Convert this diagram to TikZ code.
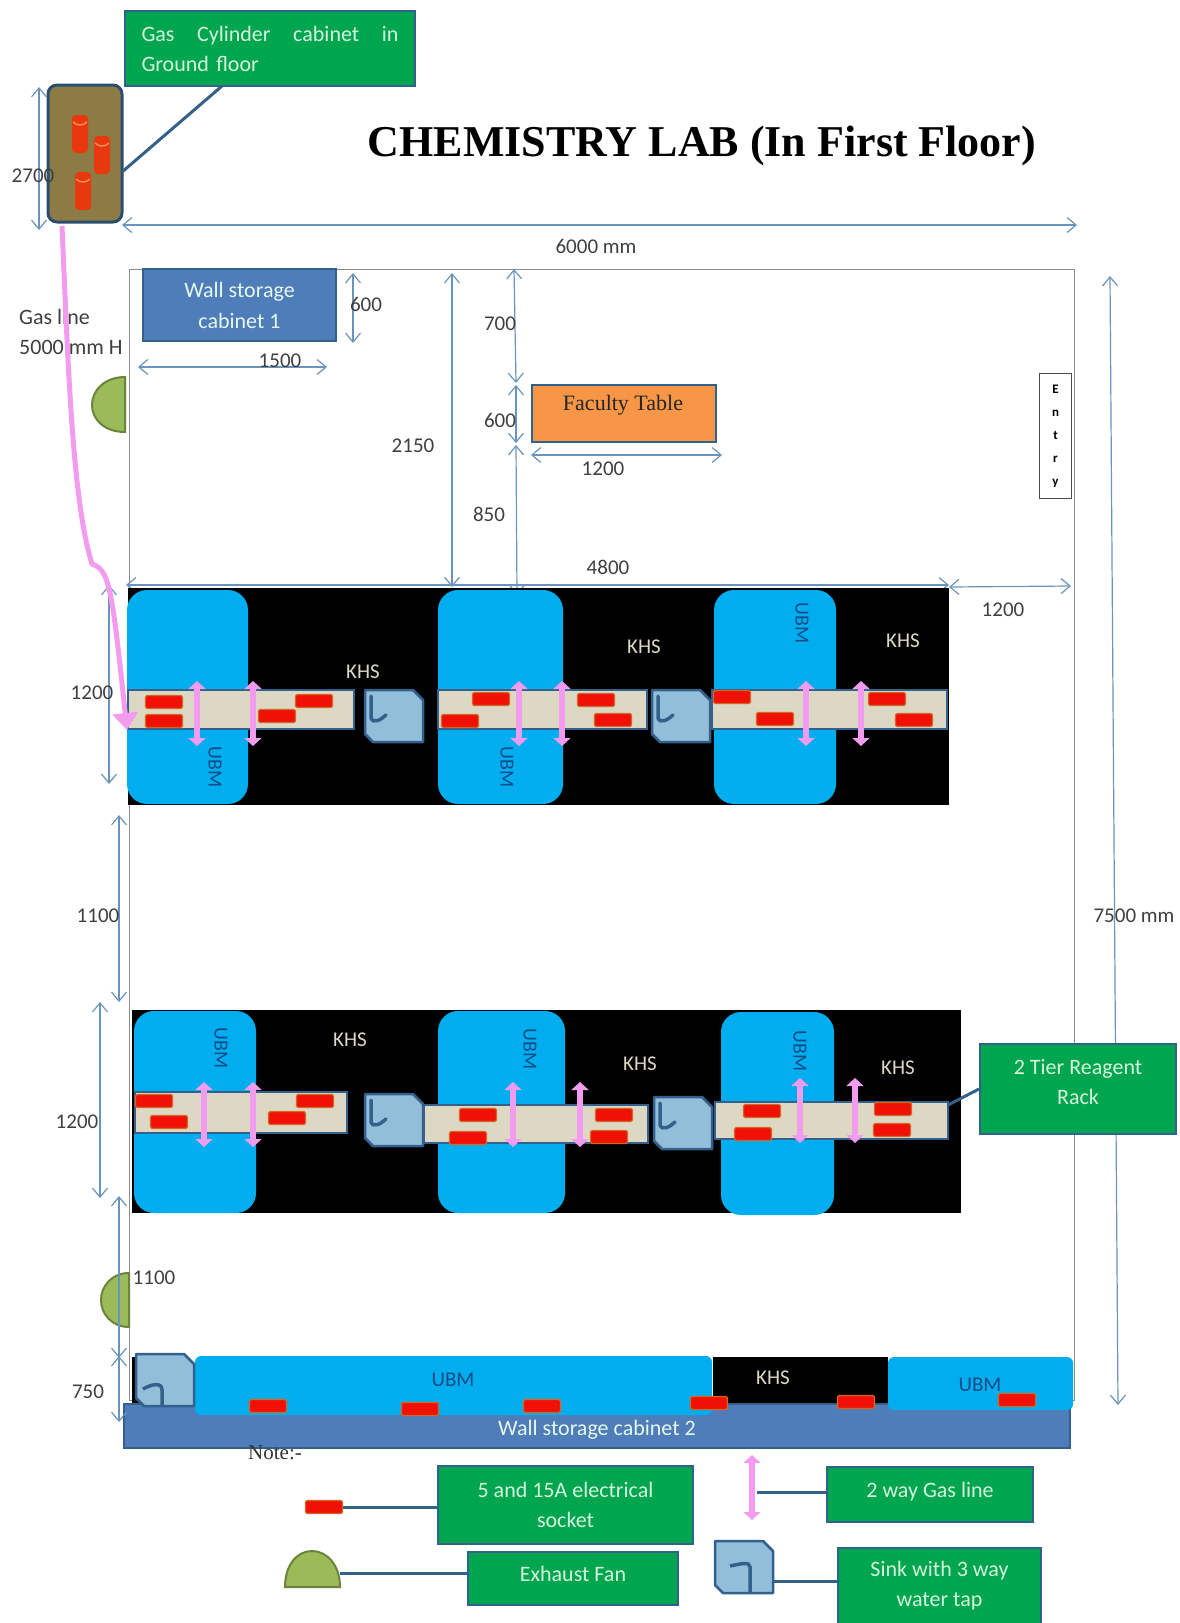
\documentclass[tikz,border=0pt]{standalone}
\usepackage{fontspec}
\setmainfont{Carlito}
\newfontfamily\serifpart{Liberation Serif}
\usetikzlibrary{arrows.meta}

\definecolor{dimblue}{HTML}{6A94BC}
\definecolor{edgeblue}{HTML}{34608C}
\definecolor{boxgreen}{HTML}{00A64F}
\definecolor{boxtext}{HTML}{D5F3DD}
\definecolor{cabblue}{HTML}{4F7DB9}
\definecolor{ubmblue}{HTML}{00AEEF}
\definecolor{ubmtext}{HTML}{0F4C86}
\definecolor{shelfbeige}{HTML}{DDD8C4}
\definecolor{sinkblue}{HTML}{93BEDA}
\definecolor{gaspink}{HTML}{F39CEF}
\definecolor{fangreen}{HTML}{9BBB59}
\definecolor{cabbrown}{HTML}{8C7B45}
\definecolor{sockred}{HTML}{F01005}
\definecolor{sockedge}{HTML}{D2691E}
\definecolor{dimtext}{HTML}{3F3F3F}
\definecolor{tableorange}{HTML}{F79646}
\definecolor{cylred}{HTML}{E8380D}
\definecolor{cyltop}{HTML}{F08A50}

\newcommand{\sinkbody}{\draw[line width=2.5pt,draw=edgeblue,fill=sinkblue,line join=round] (0,0) -- (48,0) -- (58,10) -- (58,52) -- (8,52) -- (0,44) -- cycle;}

\tikzset{
    dim/.style={draw=dimblue,line width=1.2pt,<->},
    dimlabel/.style={font=\fontsize{21}{21}\selectfont,text=dimtext,inner sep=0pt},
    callout/.style={draw=edgeblue,line width=2pt,fill=boxgreen,text=boxtext,align=center,inner sep=3pt,anchor=north west,font=\fontsize{22}{30}\selectfont},
    leader/.style={draw=edgeblue,line width=3pt},
    ubm/.style={fill=ubmblue,rounded corners=20pt},
    ubmlabel/.style={font=\fontsize{20}{20}\selectfont,text=ubmtext,inner sep=0pt},
    khslabel/.style={font=\fontsize{21}{21}\selectfont,text=shelfbeige,inner sep=0pt},
    shelf/.style={draw=edgeblue,line width=2.5pt,fill=shelfbeige},
    socket/.style={draw=sockedge,line width=1.2pt,fill=sockred,rounded corners=1.5pt,minimum width=37pt,minimum height=13pt,inner sep=0pt},
    gasarrow/.style={draw=gaspink,line width=6pt,{Triangle[length=8pt,width=17pt]}-{Triangle[length=8pt,width=17pt]}},
    fan/.style={draw=fangreen!70!black,line width=2pt,fill=fangreen},
    rowsink/.pic={\sinkbody
        \draw[line width=3.5pt,draw=edgeblue,line cap=round] (6,6) -- (6,28) .. controls (8,34) and (16,30) .. (21,25);
    },
    benchsink/.pic={\sinkbody
        \draw[line width=3.5pt,draw=edgeblue] (26,52) -- (26,36) .. controls (26,28) and (16,30) .. (7,35);
    },
    wallsink/.pic={\sinkbody
        \draw[line width=3.5pt,draw=edgeblue] (35,52) -- (35,26) .. controls (35,20) and (25,23) .. (15,25);
    }
}

\begin{document}
\begin{tikzpicture}[x=1pt,y=-1pt,>={Straight Barb[length=9pt,width=15pt]}]
        \useasboundingbox (0,0) rectangle (1179,1623);

        % Draw the room outline
        \draw[draw=black!45,line width=1pt] (129,269) rectangle (1074,1400);  % room

        % Draw the title
        \node[font=\serifpart\bfseries\fontsize{44}{44}\selectfont,inner sep=0pt] (title) at (702,146) {CHEMISTRY LAB (In First Floor)};

        % Draw the gas cylinder cabinet
        \draw[draw=edgeblue!80!black,line width=3pt,fill=cabbrown,rounded corners=9pt] (48,85) rectangle (122,222);
        \foreach \x/\y in {80/115,102/136,83/172} {
            \fill[cylred,rounded corners=4pt] (\x-8,\y) rectangle (\x+8,\y+38);
            \draw[cyltop,line width=1.5pt] (\x-7,\y+7) .. controls (\x-3,\y+11) and (\x+3,\y+11) .. (\x+7,\y+7);
        }
        \node[callout,minimum width=290pt,minimum height=75pt,text width=257pt,align=left] (cylbox) at (124,10) {Gas\hfill Cylinder\hfill cabinet\hfill in\\Ground floor};
        \coordinate (cylside) at (122,172);
        \coordinate (cylboxfoot) at (222,86);
        \draw[leader] (cylboxfoot) -- (cylside);

        % Draw the dimensions of the upper part of the room
        \draw[dim] (39,87) -- (39,230);  % cabinet height
        \node[dimlabel] (dimA) at (33,176) {2700};
        \draw[dim] (122,225) -- (1077,225);
        \node[dimlabel] (dimB) at (596,246) {6000 mm};
        \draw[dim] (353,273) -- (353,343);
        \node[dimlabel] (dimC) at (366,304) {600};
        \draw[dim] (138,367) -- (327,367);
        \node[dimlabel] (dimD) at (280,361) {1500};
        \draw[dim] (452,273) -- (452,587);
        \node[dimlabel] (dimE) at (413,446) {2150};
        \draw[dim] (514,269) -- (516,383);
        \node[dimlabel] (dimF) at (500,324) {700};
        \draw[dim] (516,385) -- (516,443);
        \node[dimlabel] (dimG) at (500,420) {600};
        \draw[dim] (516,445) -- (517,595);
        \node[dimlabel] (dimH) at (489,514) {850};
        \draw[dim] (531,455) -- (722,455);
        \node[dimlabel] (dimI) at (603,469) {1200};
        \draw[dim] (126,585) -- (949,585);
        \node[dimlabel] (dimJ) at (608,567) {4800};
        \draw[dim] (949,587) -- (1071,586);
        \node[dimlabel] (dimK) at (1003,610) {1200};
        \draw[dim] (1110,276) -- (1118,1405);
        \node[dimlabel] (dimL) at (1134,916) {7500 mm};

        % Draw the wall cabinet, the table and the entry
        \node[draw=edgeblue,line width=2pt,fill=cabblue,text=boxtext!60!white,align=center,anchor=north west,minimum width=193pt,minimum height=72pt,inner sep=0pt,font=\fontsize{22}{31}\selectfont] (cabinetA) at (142,268) {Wall storage\\cabinet 1};
        \node[draw=edgeblue,line width=1.5pt,fill=tableorange,anchor=north west,minimum width=184pt,minimum height=57pt,inner sep=0pt] (faculty) at (531,384) {};
        \node[font=\serifpart\fontsize{22}{22}\selectfont,text=black!85,inner sep=0pt] (facultytext) at (623,405) {Faculty Table};
        \node[draw=black!70,line width=1pt,anchor=north west,minimum width=32pt,minimum height=125pt,align=center,inner sep=0pt,font=\bfseries\fontsize{13}{23}\selectfont] (entry) at (1039,373) {E\\n\\t\\r\\y};

        % Draw the gas line note and the exhaust fans
        \node[dimlabel,anchor=west,align=left,font=\fontsize{22}{30}\selectfont] (gasnote) at (19,332) {Gas line\\5000 mm H};
        \draw[fan] (125,377) .. controls (105,377) and (92,390) .. (92,405) .. controls (92,420) and (105,432) .. (125,432) -- cycle;
        \draw[fan] (129,1273) .. controls (112,1273) and (101,1286) .. (101,1300) .. controls (101,1314) and (112,1327) .. (129,1327) -- cycle;

        % Draw the first row of tables
        \fill[black] (128,588) rectangle (949,805);
        \fill[ubm] (127,590) rectangle (248,804);
        \fill[ubm] (438,590) rectangle (563,804);
        \fill[ubm] (714,590) rectangle (836,804);
        \draw[shelf] (128,690) rectangle (354,729);
        \draw[shelf] (438,690) rectangle (647,729);
        \draw[shelf] (712,690) rectangle (947,729);
        \pic at (365,690) {rowsink};
        \pic at (652,690) {rowsink};
        \foreach \x/\y [count=\i] in {164/702,164/721,314/701,277/716,491/699,460/721,596/700,613/720,732/697,775/719,887/699,914/720} {
            \node[socket] (sockA\i) at (\x,\y) {};
        }
        \foreach \x in {197,253,519,562,806,861} {
            \draw[gasarrow] (\x,681) -- (\x,746);
        }
        \node[khslabel] (khsA) at (363,672) {KHS};
        \node[khslabel] (khsB) at (644,647) {KHS};
        \node[khslabel] (khsC) at (903,641) {KHS};
        \node[ubmlabel,rotate=-90] (ubmA) at (215,767) {UBM};
        \node[ubmlabel,rotate=-90] (ubmB) at (507,767) {UBM};
        \node[ubmlabel,rotate=-90] (ubmC) at (802,623) {UBM};

        % Draw the second row of tables
        \fill[black] (132,1010) rectangle (961,1213);
        \fill[ubm] (134,1011) rectangle (256,1213);
        \fill[ubm] (438,1011) rectangle (565,1213);
        \fill[ubm] (721,1012) rectangle (834,1215);
        \draw[shelf] (135,1092) rectangle (347,1133);
        \draw[shelf] (424,1105) rectangle (648,1143);
        \draw[shelf] (715,1102) rectangle (948,1139);
        \pic at (365,1094) {rowsink};
        \pic at (654,1097) {rowsink};
        \foreach \x/\y [count=\i] in {154/1101,169/1122,315/1101,287/1118,478/1115,468/1138,614/1115,609/1137,762/1111,753/1134,893/1109,892/1130} {
            \node[socket] (sockB\i) at (\x,\y) {};
        }
        \foreach \x/\y in {204/1082,253/1082,513/1082,580/1082,800/1078,855/1078} {
            \draw[gasarrow] (\x,\y) -- (\x,\y+65);
        }
        \node[khslabel] (khsD) at (350,1040) {KHS};
        \node[khslabel] (khsE) at (640,1064) {KHS};
        \node[khslabel] (khsF) at (898,1068) {KHS};
        \node[ubmlabel,rotate=-90] (ubmD) at (221,1048) {UBM};
        \node[ubmlabel,rotate=-90] (ubmE) at (530,1049) {UBM};
        \node[ubmlabel,rotate=-90] (ubmF) at (800,1051) {UBM};

        % Draw the bench along the bottom wall
        \fill[black] (713,1357) rectangle (888,1405);
        \fill[black] (132,1357) rectangle (140,1405);
        \node[draw=edgeblue,line width=1.5pt,fill=cabblue,anchor=north west,minimum width=946pt,minimum height=44pt,inner sep=0pt] (cabinetB) at (123,1403) {};
        \fill[ubmblue,rounded corners=6pt] (195,1356) rectangle (712,1415);
        \fill[ubmblue,rounded corners=6pt] (888,1357) rectangle (1073,1410);
        \pic at (136,1354) {benchsink};
        \node[text=boxtext!60!white,inner sep=0pt,font=\fontsize{22}{22}\selectfont] (cabinetBtext) at (597,1430) {Wall storage cabinet 2};
        \foreach \x/\y [count=\i] in {268/1406,420/1409,542/1406,709/1403,856/1402,1017/1400} {
            \node[socket] (sockC\i) at (\x,\y) {};
        }
        \node[ubmlabel,font=\fontsize{21}{21}\selectfont] (ubmG) at (453,1380) {UBM};
        \node[ubmlabel,font=\fontsize{21}{21}\selectfont] (ubmH) at (980,1385) {UBM};
        \node[khslabel] (khsG) at (773,1378) {KHS};

        % Draw the dimensions at the left side
        \draw[dim] (109,585) -- (109,784);
        \node[dimlabel] (dimM) at (92,693) {1200};
        \draw[dim] (119,815) -- (119,1002);
        \node[dimlabel] (dimN) at (98,916) {1100};
        \draw[dim] (100,1002) -- (100,1198);
        \node[dimlabel] (dimO) at (77,1122) {1200};
        \draw[dim] (119,1196) -- (119,1358);
        \node[dimlabel] (dimP) at (154,1278) {1100};
        \draw[dim] (119,1356) -- (119,1422);
        \node[dimlabel] (dimQ) at (88,1392) {750};

        % Draw the gas line with one arrow
        \draw[draw=gaspink,line width=5pt,-{Triangle[length=17pt,width=25pt]}] (62,226) .. controls (68,360) and (72,500) .. (92,564) .. controls (110,570) and (112,590) .. (127,730);  % gas line

        % Draw the reagent rack box
        \node[callout,minimum width=196pt,minimum height=90pt,text depth=14pt] (rackbox) at (979,1043) {2 Tier Reagent\\Rack};
        \coordinate (rackend) at (948,1105);
        \draw[leader] (rackend) -- (rackbox.west);

        % Draw the legend
        \node[font=\serifpart\fontsize{21}{21}\selectfont,text=black!80,inner sep=0pt] (note) at (275,1453) {Note:-};
        \node[socket] (legsocket) at (324,1507) {};
        \node[callout,minimum width=255pt,minimum height=78pt] (socketbox) at (437,1465) {5 and 15A electrical\\socket};
        \draw[leader] (legsocket) -- (socketbox.west |- legsocket);
        \draw[fan] (285,1587) .. controls (285,1565) and (297,1551) .. (312,1551) .. controls (327,1551) and (340,1565) .. (340,1587) -- cycle;
        \coordinate (legfan) at (340,1573);
        \node[callout,minimum width=210pt,minimum height=53pt,text depth=9pt] (fanbox) at (467,1551) {Exhaust Fan};
        \draw[leader] (legfan) -- (fanbox.west |- legfan);
        \draw[gasarrow] (752,1455) -- (752,1520);
        \coordinate (leggas) at (757,1492);
        \node[callout,minimum width=206pt,minimum height=55pt,text depth=9pt] (gasbox) at (826,1466) {2 way Gas line};
        \draw[leader] (leggas) -- (gasbox.west |- leggas);
        \pic at (715,1541) {wallsink};
        \coordinate (legsink) at (773,1581);
        \node[callout,minimum width=203pt,minimum height=76pt] (sinkbox) at (837,1547) {Sink with 3 way\\water tap};
        \draw[leader] (legsink) -- (sinkbox.west |- legsink);
\end{tikzpicture}
\end{document}
